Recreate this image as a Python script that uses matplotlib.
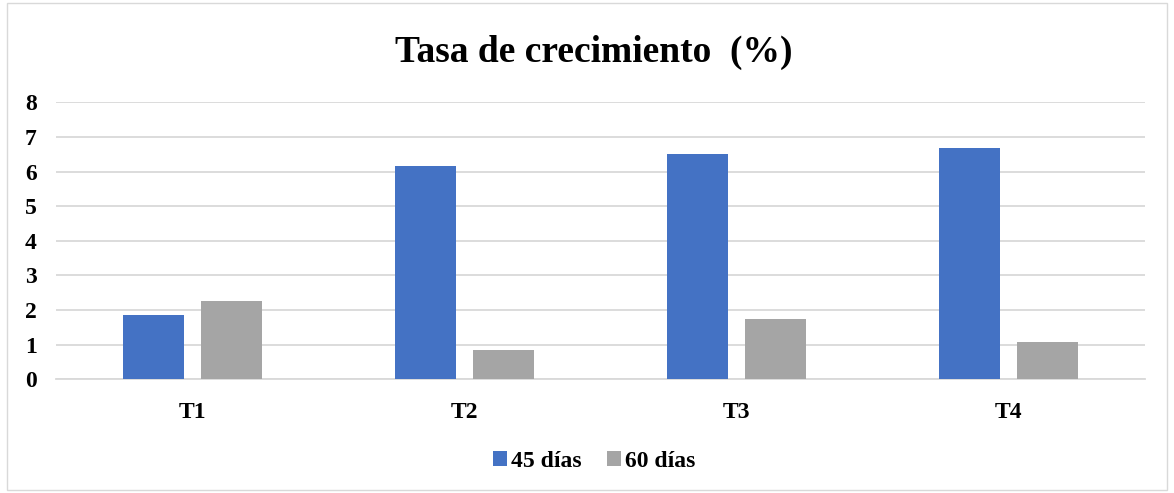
import matplotlib.pyplot as plt
import numpy as np
from matplotlib.patches import Rectangle

categories = ['T1', 'T2', 'T3', 'T4']
dias_45 = [1.85, 6.16, 6.50, 6.69]
dias_60 = [2.26, 0.86, 1.74, 1.08]
yticks = [0, 1, 2, 3, 4, 5, 6, 7, 8]

plt.rcParams['font.family'] = ['Liberation Serif', 'DejaVu Serif']
plt.rcParams['font.weight'] = 'bold'

fig = plt.figure(figsize=(11.74, 4.93), dpi=100)
ax = fig.add_axes([0.0477, 0.2306, 0.9276, 0.5619])

x = np.arange(len(categories))
w = 0.224
off = 0.143
ax.bar(x - off, dias_45, w, color='#4472C4', label='45 días', zorder=3)
ax.bar(x + off, dias_60, w, color='#A5A5A5', label='60 días', zorder=3)

ax.set_xlim(-0.5, len(categories) - 0.5)
ax.set_ylim(0, 8)
ax.set_yticks(yticks)
ax.set_xticks(x)
ax.set_xticklabels(categories)
ax.tick_params(axis='y', length=0, pad=14, labelsize=17)
ax.tick_params(axis='x', length=0, pad=16, labelsize=17)
for lab in ax.get_xticklabels() + ax.get_yticklabels():
    lab.set_fontweight('bold')

ax.grid(axis='y', color='#D9D9D9', linewidth=1.3, zorder=0)
for s in ['left', 'right', 'top']:
    ax.spines[s].set_visible(False)
ax.spines['bottom'].set_color('#D9D9D9')
ax.spines['bottom'].set_linewidth(1.3)

fig.text(0.506, 0.893, 'Tasa de crecimiento  (%)', ha='center', va='center',
         fontsize=27, fontweight='bold')

fig.legend(loc='center', bbox_to_anchor=(0.506, 0.064), ncol=2, frameon=False,
           prop={'size': 17, 'weight': 'bold'}, handlelength=0.6, handleheight=0.6,
           handletextpad=0.15, columnspacing=1.1)

fig.patches.append(Rectangle((0.006, 0.006), 0.988, 0.988, transform=fig.transFigure,
                             fill=False, edgecolor='#D9D9D9', linewidth=1))

plt.savefig('out.png', dpi=100)
plt.close()
